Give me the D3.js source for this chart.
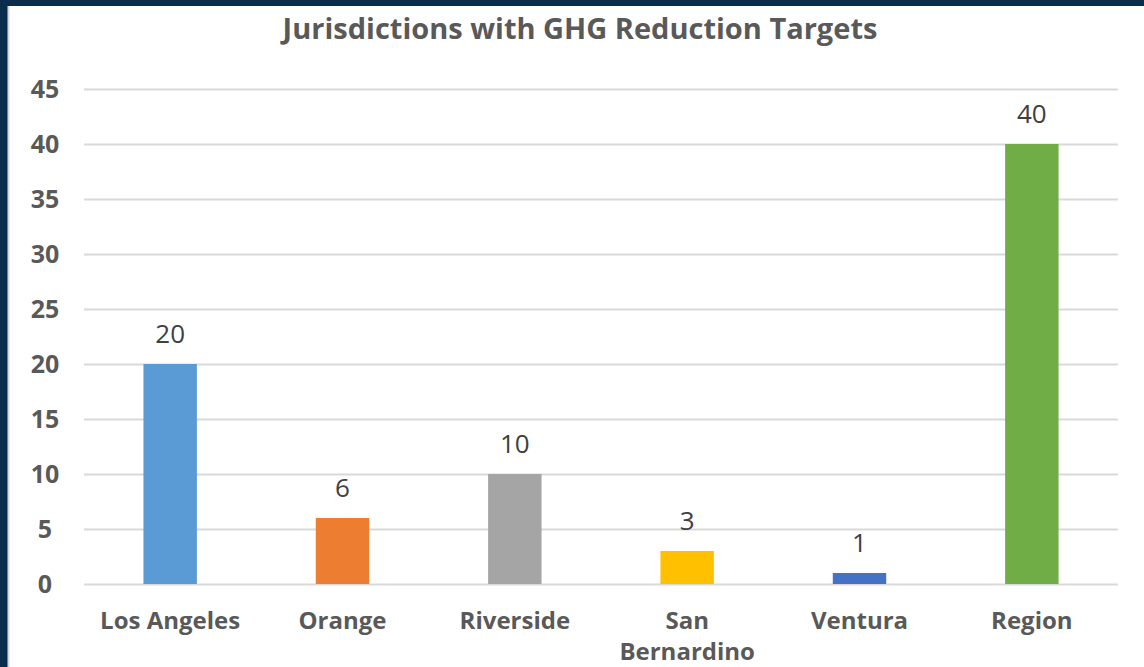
<!DOCTYPE html>
<html>
<head>
<meta charset="utf-8">
<script src="https://cdn.jsdelivr.net/npm/d3@7"></script>
<style>
  html, body { margin: 0; padding: 0; background: #0a2d4e; }
  svg { display: block; }
</style>
</head>
<body>
<svg id="chart" width="1144" height="667"></svg>
<script>
// Jurisdictions with GHG reduction targets, by county
const categories = ["Los Angeles", "Orange", "Riverside", "San Bernardino", "Ventura", "Region"];
const values = [20, 6, 10, 3, 1, 40];
const barColors = ["#5b9bd5", "#ed7d31", "#a5a5a5", "#ffc000", "#4472c4", "#70ad47"];
const yTicks = [0, 5, 10, 15, 20, 25, 30, 35, 40, 45];
const title = "Jurisdictions with GHG Reduction Targets";

const svg = d3.select("#chart");
const W = 1144, H = 667;
const font = "'Open Sans', 'Noto Sans', sans-serif";

// navy frame, white chart panel
svg.append("rect").attr("width", W).attr("height", H).attr("fill", "#0a2d4e");
svg.append("rect").attr("x", 8).attr("y", 6).attr("width", W - 8).attr("height", H - 6).attr("fill", "#ffffff");
svg.append("line").attr("x1", 8.5).attr("x2", 8.5).attr("y1", 6).attr("y2", H)
  .attr("stroke", "#d9d9d9").attr("stroke-width", 2);

const plot = { left: 84, right: 1118, top: 89, bottom: 584 };

const x = d3.scaleBand().domain(categories).range([plot.left, plot.right]).paddingInner(0.69).paddingOuter(0.345);
const y = d3.scaleLinear().domain([0, 45]).range([plot.bottom, plot.top]);

// gridlines
svg.append("g").selectAll("line").data(yTicks).join("line")
  .attr("x1", plot.left).attr("x2", plot.right)
  .attr("y1", d => Math.round(y(d)) + 0.5).attr("y2", d => Math.round(y(d)) + 0.5)
  .attr("stroke", "#d9d9d9").attr("stroke-width", 2);

// y axis labels
const yAxis = d3.axisLeft(y).tickValues(yTicks).tickSize(0).tickPadding(0);
const gy = svg.append("g").attr("transform", `translate(60,0)`).call(yAxis);
gy.select(".domain").remove();
gy.selectAll("text")
  .attr("font-family", font).attr("font-size", 25).attr("font-weight", "bold")
  .attr("fill", "#595959").attr("text-anchor", "middle").attr("dy", "0.35em").attr("x", -15);

// bars
svg.append("g").selectAll("rect").data(values).join("rect")
  .attr("x", (d, i) => x(categories[i]))
  .attr("y", d => y(d))
  .attr("width", x.bandwidth())
  .attr("height", d => y(0) - y(d))
  .attr("fill", (d, i) => barColors[i]);

// value labels
svg.append("g").selectAll("text").data(values).join("text")
  .attr("x", (d, i) => x(categories[i]) + x.bandwidth() / 2)
  .attr("y", d => y(d) - 21)
  .attr("text-anchor", "middle")
  .attr("font-family", font).attr("font-size", 26)
  .attr("fill", "#404040")
  .text(d => d);

// category labels (wrapped where needed)
const xAxis = d3.axisBottom(x).tickSize(0).tickPadding(0);
const gx = svg.append("g").attr("transform", `translate(0,${plot.bottom})`).call(xAxis);
gx.select(".domain").remove();
gx.selectAll("text").each(function (d) {
  const t = d3.select(this);
  t.text(null).attr("y", 0).attr("dy", null)
    .attr("font-family", font).attr("font-size", 24).attr("font-weight", "bold")
    .attr("fill", "#595959");
  const lines = d === "San Bernardino" ? ["San", "Bernardino"] : [d];
  lines.forEach((ln, k) => {
    t.append("tspan").attr("x", 0).attr("y", 45 + k * 31).text(ln);
  });
});

// title
svg.append("text")
  .attr("x", 580).attr("y", 39)
  .attr("text-anchor", "middle")
  .attr("font-family", font).attr("font-size", 29).attr("font-weight", "bold")
  .attr("fill", "#595959")
  .text(title);
</script>
</body>
</html>
